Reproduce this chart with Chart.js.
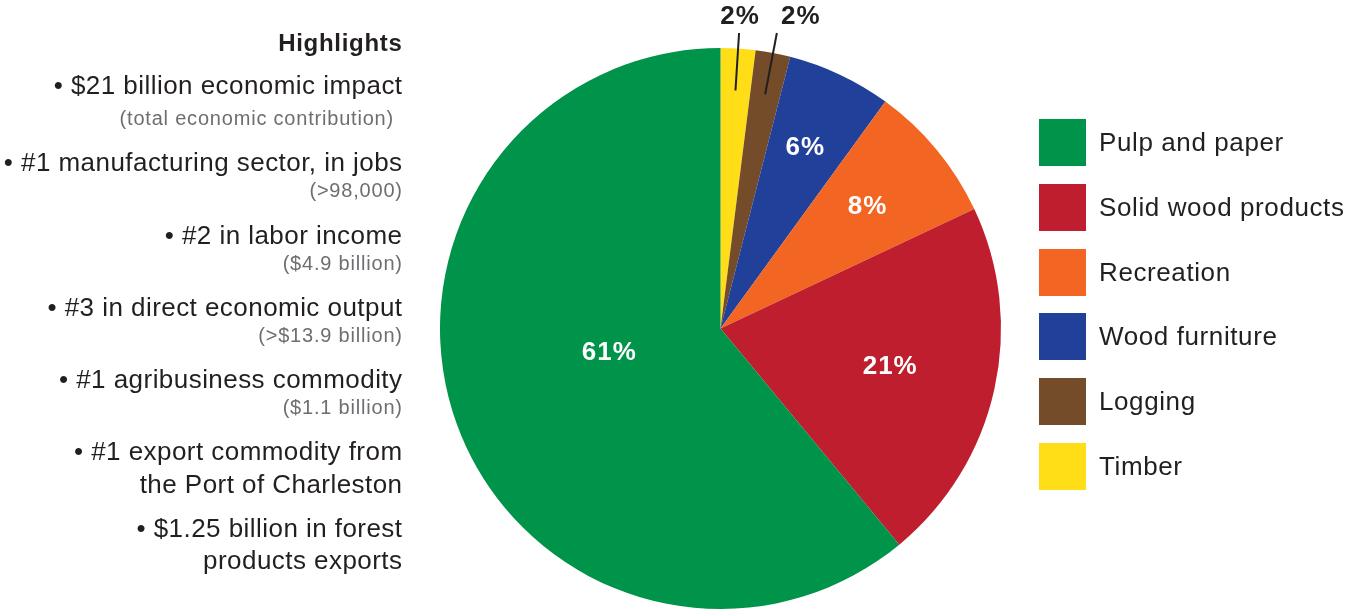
<!DOCTYPE html>
<html>
<head>
<meta charset="utf-8">
<script src="https://cdn.jsdelivr.net/npm/chart.js@4/dist/chart.umd.min.js"></script>
<style>
  html,body{margin:0;padding:0;background:#fff;}
  body{width:1345px;height:614px;position:relative;overflow:hidden;font-family:"Liberation Sans",Arial,Helvetica,sans-serif;}
  #wrap{position:absolute;left:0;top:0;width:1345px;height:614px;}
  #hl{position:absolute;right:943px;top:0;text-align:right;color:#231f20;white-space:nowrap;}
  #hl .t{position:absolute;right:-0.5px;font-size:26px;line-height:30px;height:30px;letter-spacing:0.45px;}
  #hl .h{font-weight:bold;font-size:24px;letter-spacing:0.7px;}
  #hl .s{font-size:20px;color:#6d6e71;letter-spacing:0.8px;right:-0.8px;}
  #legend{position:absolute;left:1039px;top:119px;}
  .li{position:absolute;left:0;height:47px;white-space:nowrap;}
  .li .b{position:absolute;left:0;top:0;width:47px;height:47px;}
  .li .l{position:absolute;left:60px;top:8px;font-size:26px;line-height:30px;letter-spacing:0.6px;color:#231f20;}
</style>
</head>
<body>
<div id="wrap"><canvas id="c" width="1345" height="614"></canvas></div>
<div id="hl"></div>
<div id="legend"></div>
<script>
// ---- data ----
const categories = ["Timber", "Logging", "Wood furniture", "Recreation", "Solid wood products", "Pulp and paper"];
const shares = [2, 2, 6, 8, 21, 61];
const sliceColors = ["#ffde17", "#754c29", "#21409a", "#f26522", "#be1e2d", "#00934a"];
const legendOrder = ["Pulp and paper", "Solid wood products", "Recreation", "Wood furniture", "Logging", "Timber"];

const highlightsTitle = "Highlights";
const highlightLines = [
  ["• $21 billion economic impact", "m"],
  ["(total economic contribution)", "s"],
  ["• #1 manufacturing sector, in jobs", "m"],
  ["(>98,000)", "s"],
  ["• #2 in labor income", "m"],
  ["($4.9 billion)", "s"],
  ["• #3 in direct economic output", "m"],
  ["(>$13.9 billion)", "s"],
  ["• #1 agribusiness commodity", "m"],
  ["($1.1 billion)", "s"],
  ["• #1 export commodity from", "m"],
  ["the Port of Charleston", "m"],
  ["• $1.25 billion in forest", "m"],
  ["products exports", "m"]
];

// ---- styling / layout ----
const hlCenterY = [43, 85, 118, 162, 190, 235, 263, 307, 335, 379, 407, 451, 484, 528, 560];
const labelRadiusFrac = [0, 0, 0.71, 0.68, 0.62, 0.41];
const labelNudge = [[1, 0], [24, 0], [0, 0], [0, 0], [0, 0], [-3, -15]];
const outsideLabel = [true, true, false, false, false, false];

// highlights
const hl = document.getElementById('hl');
{
  const d = document.createElement('div');
  d.className = 't h'; d.textContent = highlightsTitle; d.style.top = (hlCenterY[0] - 15) + 'px';
  hl.appendChild(d);
}
highlightLines.forEach((ln, i) => {
  const d = document.createElement('div');
  d.className = 't' + (ln[1] === 's' ? ' s' : '');
  d.textContent = ln[0];
  d.style.top = (hlCenterY[i + 1] - 15) + 'px';
  if (i === 1) d.style.right = '8px';
  hl.appendChild(d);
});

// legend
const lg = document.getElementById('legend');
legendOrder.forEach((name, i) => {
  const idx = categories.indexOf(name);
  const it = document.createElement('div');
  it.className = 'li';
  it.style.top = (i * 64.8) + 'px';
  it.innerHTML = '<div class="b" style="background:' + sliceColors[idx] + '"></div><div class="l"></div>';
  it.querySelector('.l').textContent = name;
  lg.appendChild(it);
});

const labelPlugin = {
  id: 'pctLabels',
  afterDatasetsDraw(chart) {
    const ctx = chart.ctx;
    const meta = chart.getDatasetMeta(0);
    ctx.save();
    ctx.font = 'bold 26px "Liberation Sans", Arial, sans-serif';
    ctx.letterSpacing = '1px';
    ctx.textAlign = 'center';
    ctx.textBaseline = 'middle';
    meta.data.forEach((arc, i) => {
      const v = chart.data.datasets[0].data[i];
      const txt = v + '%';
      const mid = (arc.startAngle + arc.endAngle) / 2;
      const cx = Math.cos(mid), cy = Math.sin(mid);
      if (outsideLabel[i]) {
        const r1 = arc.outerRadius * 0.85;
        const x1 = arc.x + cx * r1;
        const y1 = arc.y + cy * r1;
        const yTop = 33;
        const t = (yTop - arc.y) / cy;
        const x2 = arc.x + cx * t;
        ctx.strokeStyle = '#231f20';
        ctx.lineWidth = 2;
        ctx.beginPath();
        ctx.moveTo(x1, y1);
        ctx.lineTo(x2, yTop);
        ctx.stroke();
        ctx.fillStyle = '#231f20';
        ctx.fillText(txt, x2 + labelNudge[i][0], 17 + labelNudge[i][1]);
      } else {
        const r = arc.outerRadius * labelRadiusFrac[i];
        ctx.fillStyle = '#ffffff';
        ctx.fillText(txt, arc.x + cx * r + labelNudge[i][0], arc.y + cy * r + labelNudge[i][1]);
      }
    });
    ctx.restore();
  }
};

new Chart(document.getElementById('c'), {
  type: 'pie',
  data: {
    labels: categories,
    datasets: [{ data: shares, backgroundColor: sliceColors, borderWidth: 0 }]
  },
  options: {
    responsive: false,
    animation: false,
    layout: { padding: { left: 440, right: 344, top: 48, bottom: 5 } },
    plugins: { legend: { display: false }, tooltip: { enabled: false } }
  },
  plugins: [labelPlugin]
});
</script>
</body>
</html>
